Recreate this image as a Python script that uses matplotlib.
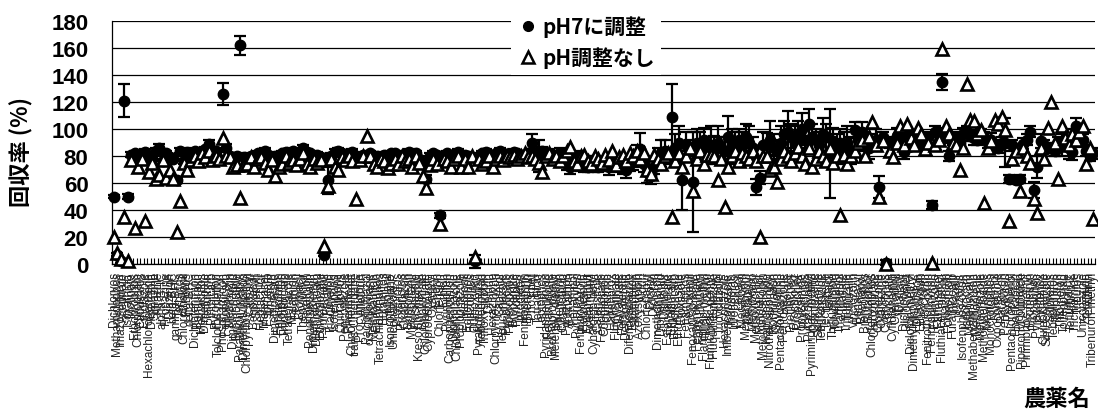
import numpy as np
import matplotlib
matplotlib.use("Agg")
import matplotlib.pyplot as plt
from matplotlib.lines import Line2D
from matplotlib.font_manager import FontProperties

plt.rcParams['font.family'] = ['Liberation Sans', 'Noto Sans CJK JP', 'DejaVu Sans']
CJK = ['Noto Sans CJK JP', 'DejaVu Sans']

# --- 農薬名 (x軸) ---
names = [
    "Dichlorvos", "Methamidophos", "Imazosulfuron", "Acephate", "Isoxathion", "Molinate", "Ethoprophos", "Chlorpropham", "Cadusafos", "Etridiazole",
    "Hexachlorobenzene", "Dimethipin", "Simazine", "Atrazine", "alpha-BHC", "Propazine", "Diazinon", "beta-BHC", "gamma-BHC", "Terbufos",
    "Chlorothalonil", "Fonofos", "delta-BHC", "Dichlofenthion", "Benfluralin", "Methacrifos", "Dimethoate", "Tefluthrin", "Pirimicarb", "Pyroquilon",
    "Tolclofos-methyl", "Phosphamidon", "Fenobucarb", "Metribuzin", "Dimethenamid", "Bromobutide", "Parathion-methyl", "Dimethylvinphos", "Chlorpyrifos-methyl", "Carbaryl",
    "Benoxacor", "Simetryn", "Heptachlor", "Mefenacet", "Esprocarb", "Ametryn", "Dimepiperate", "Fenitrothion", "Chlorpyrifos", "Thiobencarb",
    "Tetraconazole", "Malathion", "Fenthion", "Bromacil", "Thenylchlor", "Parathion", "Pendimethalin", "Dimethametryn", "Diethofencarb", "Ethychlozate",
    "Pyrimethanil", "Fthalide", "Triadimefon", "Isofenphos", "Fipronil", "Quinalphos", "Penconazole", "Phenthoate", "Chinomethionat", "trans-Chlordane",
    "Procymidone", "Allethrin", "Paclobutrazol", "cis-Chlordane", "Methidathion", "Endosulfan", "Tetrachlorvinphos", "Butamifos", "Flutolanil", "Isoprothiolane",
    "Uniconazole-P", "Prothiofos", "Profenofos", "Oxadiazon", "Buprofezin", "Myclobutanil", "Flusilazole", "Kresoxim-methyl", "Bupirimate", "Chlorobenzilate",
    "Cyproconazole", "Oxadixyl", "Endrin", "Chlorfenson", "Ethion", "Pyrimidifen", "Carbophenothion", "Diniconazole", "Chlobenthiazone", "Propiconazole",
    "Mepronil", "Edifenphos", "Triazophos", "Quinoxyfen", "Pyraflufen-ethyl", "Tebufenpyrad", "Trifloxystrobin", "Dieldrin", "Hexazinone", "Chlorpyrifos-oxon",
    "Captafol", "Tebuconazole", "Pyributicarb", "Piperophos", "Propargite", "Pyridaben", "Iprodione", "Fenpropathrin", "Bifenthrin", "Phosmet",
    "EPN", "Tetradifon", "Leptophos", "Pyridaphenthion", "Fenamidone", "Bromopropylate", "Mefenpyr-diethyl", "Phenothrin", "Cyhalothrin", "Pyrazophos",
    "Acrinathrin", "Fenarimol", "Pyriproxyfen", "Fenbuconazole", "Permethrin", "Furametpyr", "Acetamiprid", "Cyhalofop-butyl", "Cafenstrole", "Fenothiocarb",
    "Coumaphos", "Cyfluthrin", "Halfenprox", "Flucythrinate", "Fluvalinate", "Fenvalerate", "Deltamethrin", "Difenoconazole", "Etofenprox", "Silafluofen",
    "Azoxystrobin", "Aldrin", "Chlorfenapyr", "Dicofol", "Dicloran", "Dimethomorph", "Diphenamid", "Dithiopyr", "Esfenvalerate", "Ethalfluralin",
    "Ethiofencarb", "Ethofumesate", "Etoxazole", "Fenamiphos", "Fenoxanil", "Fenoxaprop-ethyl", "Fenpyroximate", "Fensulfothion", "Flamprop-methyl", "Fluacrypyrim",
    "Flumiclorac-pentyl", "Fluquinconazole", "Flutriafol", "Tricyclazole", "Hexaconazole", "Imibenconazole", "Indanofan", "Iprobenfos", "Lenacil", "Mecarbam",
    "Mepanipyrim", "Metalaxyl", "Methiocarb", "Methoxychlor", "Metolachlor", "Metominostrobin", "Napropamide", "Nitrothal-isopropyl", "Norflurazon", "Oxyfluorfen",
    "Pentachloroaniline", "Pentoxazone", "Phorate", "Pretilachlor", "Prochloraz", "Propachlor", "Propyzamide", "Pyraclofos", "Pyrazolynate", "Pyriminobac-methyl",
    "Quintozene", "Spiroxamine", "Tebufenozide", "Tecnazene", "Terbacil", "Thifluzamide", "Tolylfluanid", "Triadimenol", "Triallate", "Triflumizole",
    "Trifluralin", "Vinclozolin", "Benalaxyl", "Bitertanol", "Bromophos", "Butachlor", "Chlorfenvinphos", "Chlozolinate", "Clomazone", "Cyanazine",
    "Cyanophos", "Cycloate", "Cyflufenamid", "Cyprodinil", "Diallate", "Dichlobenil", "Diclocymet", "Diclofop-methyl", "Dimethylvinphos-Z", "Disulfoton",
    "Ethoxyquin", "Fenclorim", "Fenitrothion-oxon", "Fenpropimorph", "Ferimzone", "Flufenacet", "Fluthiacet-methyl", "Fluazinam", "Formothion", "Furathiocarb",
    "Imazalil", "Isazofos", "Isofenphos-oxon", "Isoprocarb", "Mefenoxam", "Methabenzthiazuron", "Methoprene", "Metconazole", "Methoxyfenozide", "Mevinphos",
    "Monocrotophos", "Nuarimol", "Oxpoconazole", "Paraoxon", "Pencycuron", "Perthane", "Pentachlorophenol", "Phenkapton", "Picolinafen", "Piperonyl butoxide",
    "Pirimiphos-methyl", "Prometryn", "Propaphos", "Pyrazoxyfen", "Pyrifenox", "Quinoclamine", "Simeconazole", "Sulprofos", "Tebupirimfos", "Terbutryn",
    "Thiometon", "Tolfenpyrad", "Triforine", "Tefluthrin-Z", "Trichlamide", "Tribufos", "Uniconazole", "Zoxamide", "Tefluthrin", "Tribenuron-methyl",
]

# --- 回収率 pH7に調整 (●) ---
ph7 = [
    50, 7, 2, 121, 50, 81, 82, 80, 79, 83, 80, 78, 84, 86, 76, 82, 79, 78, 62, 84,
    76, 83, 80, 84, 81, 83, 85, 89, 82, 84, 78, 126, 86, 80, 78, 80, 162, 79, 77, 80,
    80, 82, 78, 84, 81, 79, 80, 76, 82, 83, 80, 84, 82, 83, 86, 83, 82, 80, 81, 79,
    7, 62, 80, 83, 84, 82, 79, 80, 83, 80, 78, 81, 80, 82, 79, 80, 77, 81, 80, 82,
    82, 80, 81, 79, 83, 80, 82, 78, 74, 63, 80, 82, 81, 36, 80, 82, 80, 81, 83, 80,
    81, 80, 79, 2, 80, 82, 83, 81, 80, 82, 84, 82, 81, 80, 83, 82, 81, 80, 82, 90,
    82, 80, 84, 80, 81, 79, 80, 82, 78, 74, 72, 76, 80, 74, 73, 72, 74, 75, 72, 74,
    74, 72, 76, 73, 75, 72, 70, 74, 76, 80, 85, 74, 68, 65, 72, 78, 82, 84, 80, 109,
    86, 90, 62, 88, 84, 61, 90, 86, 92, 84, 88, 85, 90, 86, 84, 94, 90, 86, 92, 88,
    94, 90, 86, 57, 64, 88, 89, 92, 86, 84, 90, 96, 98, 94, 90, 96, 100, 92, 104, 94,
    92, 88, 96, 94, 82, 91, 88, 90, 86, 90, 84, 99, 92, 98, 88, 86, 90, 92, 57, 94,
    1, 90, 89, 95, 92, 83, 94, 90, 92, 95, 90, 93, 94, 44, 98, 96, 135, 94, 80, 92,
    94, 90, 96, 98, 95, 93, 92, 96, 94, 90, 92, 88, 86, 90, 90, 63, 88, 62, 63, 89,
    92, 98, 55, 72, 91, 88, 86, 86, 84, 90, 88, 92, 86, 83, 102, 95, 92, 84, 80, 82,
]

# 標準偏差 (pH7に調整)
ph7_err = [
    1, 1, 1, 12, 2, 2, 2, 2, 2, 2, 2, 2, 2, 3, 2, 2, 2, 2, 2, 2,
    2, 2, 2, 2, 2, 2, 2, 3, 2, 2, 2, 8, 3, 2, 2, 2, 7, 2, 2, 2,
    2, 2, 2, 2, 2, 2, 2, 2, 2, 2, 2, 2, 2, 2, 2, 2, 2, 2, 2, 2,
    1, 10, 2, 2, 2, 2, 2, 2, 2, 2, 2, 2, 2, 2, 2, 2, 2, 2, 2, 2,
    2, 2, 2, 2, 2, 2, 2, 2, 2, 3, 2, 2, 2, 2, 2, 2, 2, 2, 2, 2,
    2, 2, 2, 5, 2, 2, 2, 2, 2, 2, 2, 2, 2, 2, 2, 2, 2, 2, 2, 6,
    3, 12, 3, 3, 4, 3, 4, 4, 5, 4, 5, 4, 4, 5, 5, 4, 6, 5, 4, 5,
    5, 6, 5, 5, 6, 5, 6, 5, 6, 8, 12, 6, 8, 6, 5, 8, 10, 8, 6, 24,
    10, 12, 22, 10, 8, 37, 10, 12, 9, 10, 14, 10, 12, 8, 10, 16, 10, 12, 8, 10,
    10, 12, 8, 6, 5, 10, 8, 14, 10, 8, 12, 10, 15, 10, 12, 10, 12, 8, 11, 10,
    8, 10, 12, 10, 33, 10, 8, 10, 12, 12, 10, 6, 8, 7, 10, 8, 6, 8, 8, 4,
    2, 4, 4, 6, 4, 5, 4, 5, 4, 4, 5, 4, 4, 3, 4, 5, 6, 4, 4, 4,
    4, 4, 5, 4, 4, 5, 4, 4, 4, 4, 5, 4, 4, 4, 18, 3, 4, 3, 3, 4,
    4, 4, 6, 8, 5, 4, 4, 4, 4, 4, 8, 8, 8, 6, 6, 8, 4, 4, 4, 4,
]

# --- 回収率 pH調整なし (△) ---
no_adj = [
    20, 8, 4, 35, 2, 77, 27, 72, 78, 32, 68, 75, 63, 66, 77, 64, 70, 63, 24, 47,
    75, 70, 77, 80, 76, 82, 79, 84, 77, 80, 78, 93, 80, 79, 72, 73, 49, 73, 74, 79,
    72, 78, 79, 75, 70, 77, 65, 72, 74, 80, 75, 77, 73, 78, 82, 74, 72, 78, 75, 77,
    13, 58, 78, 72, 70, 79, 77, 80, 76, 48, 77, 80, 95, 80, 74, 72, 78, 76, 71, 74,
    78, 74, 80, 76, 78, 72, 80, 75, 65, 56, 73, 78, 74, 30, 78, 76, 72, 78, 80, 72,
    78, 72, 80, 5, 78, 74, 76, 80, 72, 78, 80, 77, 80, 79, 81, 78, 80, 82, 79, 80,
    78, 75, 68, 80, 82, 78, 80, 76, 80, 84, 87, 76, 74, 80, 81, 76, 74, 80, 78, 75,
    81, 77, 84, 73, 79, 81, 76, 82, 80, 84, 78, 82, 70, 67, 81, 78, 74, 80, 82, 35,
    76, 82, 72, 80, 86, 54, 78, 84, 74, 81, 81, 80, 62, 78, 42, 72, 80, 84, 76, 82,
    80, 78, 84, 76, 20, 80, 80, 70, 72, 61, 78, 84, 80, 76, 82, 87, 80, 74, 86, 72,
    78, 84, 80, 76, 86, 75, 80, 36, 81, 74, 80, 84, 90, 92, 80, 94, 105, 88, 50, 91,
    0, 84, 79, 90, 102, 88, 104, 93, 88, 101, 96, 85, 90, 1, 88, 92, 159, 102, 96, 90,
    88, 70, 86, 133, 107, 106, 96, 99, 45, 86, 91, 107, 104, 109, 99, 32, 78, 84, 54, 86,
    80, 75, 48, 38, 86, 78, 101, 120, 90, 63, 102, 93, 88, 96, 92, 98, 102, 74, 86, 33,
]

assert len(names) == len(ph7) == len(ph7_err) == len(no_adj), (len(names), len(ph7), len(ph7_err), len(no_adj))

W, H = 1098, 410
fig = plt.figure(figsize=(W / 100, H / 100), dpi=100)
ax = fig.add_axes([112 / W, 1 - 265 / H, (1095 - 112) / W, (265 - 22) / H])

x = np.arange(len(names))
eb = ax.errorbar(x, ph7, yerr=ph7_err, fmt='o', color='black', ms=7.5,
                 ecolor='black', elinewidth=1.6, capsize=4, capthick=1.6, zorder=3)
for art in eb.get_children():
    art.set_clip_on(False)
ax.plot(x, no_adj, linestyle='none', marker='^', ms=9, mfc='white', mec='black',
        mew=1.9, zorder=4, clip_on=False)

ax.set_xlim(-0.5, len(names) - 0.5)
ax.set_ylim(0, 180)
ax.set_yticks(range(0, 181, 20))
ax.yaxis.grid(True, color='black', linewidth=0.9)
ax.set_axisbelow(True)
for s in ['top', 'right']:
    ax.spines[s].set_visible(False)
ax.spines['left'].set_linewidth(0.9)
ax.spines['bottom'].set_linewidth(0.9)

ax.tick_params(axis='y', length=0, pad=17, labelsize=16)
for lab in ax.get_yticklabels():
    lab.set_fontweight('bold')

ax.set_xticks(x)
ax.set_xticklabels(names, rotation=90, fontsize=8.5, color='#222222')
ax.tick_params(axis='x', which='major', length=0, pad=5)
ax.set_xticks(np.arange(-0.5, len(names), 1), minor=True)
ax.tick_params(axis='x', which='minor', direction='in', length=4, width=0.8)

# 軸ラベル
fig.text(22 / W, 1 - 152 / H, '回収率 (%)', rotation=90, fontsize=16, fontweight='bold',
         ha='center', va='center', family=CJK)
fig.text(1057 / W, 1 - 399 / H, '農薬名', fontsize=16, fontweight='bold',
         ha='center', va='center', family=CJK)

# 凡例
handles = [
    Line2D([], [], linestyle='none', marker='o', color='black', ms=7),
    Line2D([], [], linestyle='none', marker='^', ms=8.5, mfc='white', mec='black', mew=1.8),
]
leg = ax.legend(handles, ['pH7に調整', 'pH調整なし'], loc='center',
                bbox_to_anchor=(586 / W, 1 - 43 / H), bbox_transform=fig.transFigure,
                frameon=True, facecolor='white', edgecolor='none', framealpha=1,
                prop=FontProperties(family=CJK, weight='bold', size=15),
                handletextpad=0.2, handlelength=1.0, labelspacing=0.45, borderpad=0.3)
leg.get_frame().set_boxstyle('square', pad=0)

fig.savefig('out.png', dpi=100)
